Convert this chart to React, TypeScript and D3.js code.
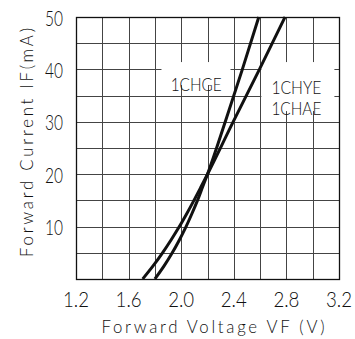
import React from "react";
import * as d3 from "d3";

// Axis ticks
const xTickValues = [1.2, 1.6, 2.0, 2.4, 2.8, 3.2];
const xTickLabels = ["1.2", "1.6", "2.0", "2.4", "2.8", "3.2"];
const yTickValues = [10, 20, 30, 40, 50];
const yTickLabels = ["10", "20", "30", "40", "50"];

// Forward characteristic, 1CHGE (voltage in V, current in mA)
const chgeVoltage = [1.8, 1.87, 1.932, 1.987, 2.037, 2.082, 2.124, 2.162, 2.2, 2.335, 2.465, 2.59];
const chgeCurrent = [0, 2.5, 5, 7.5, 10, 12.5, 15, 17.5, 20, 30, 40, 50];

// Forward characteristic, 1CHYE / 1CHAE
const chyeVoltage = [1.707, 1.786, 1.858, 1.924, 1.986, 2.043, 2.097, 2.149, 2.2, 2.395, 2.595, 2.79];
const chyeCurrent = [0, 2.5, 5, 7.5, 10, 12.5, 15, 17.5, 20, 30, 40, 50];

const curveLabelA = ["1CHGE"];
const curveLabelB = ["1CHYE", "1CHAE"];

const W = 355;
const H = 339;
const plot = { left: 76, right: 339, top: 17, bottom: 279 };
const FONT = "Lato, 'Liberation Sans', Arial, sans-serif";
const INK = "#111";

export default function App() {
  const x = d3.scaleLinear().domain([1.2, 3.2]).range([plot.left, plot.right]);
  const y = d3.scaleLinear().domain([0, 50]).range([plot.bottom, plot.top]);

  const xGrid = d3.range(0, 11).map((i) => 1.2 + i * 0.2);
  const yGrid = d3.range(0, 11).map((i) => i * 5);
  const crisp = (v: number) => Math.round(v) + 0.5;

  const line = d3
    .line<[number, number]>()
    .x((d) => x(d[0]))
    .y((d) => y(d[1]))
    .curve(d3.curveMonotoneY);

  const chge: [number, number][] = chgeVoltage.map((v, i) => [v, chgeCurrent[i]]);
  const chye: [number, number][] = chyeVoltage.map((v, i) => [v, chyeCurrent[i]]);

  return (
    <svg
      width={W}
      height={H}
      viewBox={`0 0 ${W} ${H}`}
      style={{ position: "absolute", left: 0, top: 0, background: "#fff" }}
    >
      <rect x={0} y={0} width={W} height={H} fill="#fff" />

      {/* grid */}
      <g stroke="#444" strokeWidth={1}>
        {xGrid.map((v, i) => (
          <line key={"gx" + i} x1={crisp(x(v))} x2={crisp(x(v))} y1={plot.top} y2={plot.bottom} />
        ))}
        {yGrid.map((v, i) => (
          <line key={"gy" + i} x1={plot.left} x2={plot.right} y1={crisp(y(v))} y2={crisp(y(v))} />
        ))}
      </g>
      <rect
        x={crisp(plot.left)}
        y={crisp(plot.top)}
        width={Math.round(plot.right) - Math.round(plot.left)}
        height={Math.round(plot.bottom) - Math.round(plot.top)}
        fill="none"
        stroke={INK}
        strokeWidth={1.3}
      />

      {/* label backgrounds */}
      <rect x={x(1.85)} y={y(41.4)} width={69} height={23} fill="#fff" />
      <rect x={x(2.8) - 25} y={y(41.4)} width={73} height={49} fill="#fff" />

      {/* curves */}
      <g fill="none" stroke={INK} strokeWidth={3} strokeLinejoin="round">
        <path d={line(chge) || ""} />
        <path d={line(chye) || ""} />
      </g>

      {/* curve labels */}
      <g fontFamily={FONT} fontWeight={300} fontSize={17} fill={INK}>
        {curveLabelA.map((t, i) => (
          <text key={t} x={x(1.92)} y={y(35.9) + i * 20.5} textLength={51} lengthAdjust="spacingAndGlyphs">
            {t}
          </text>
        ))}
        {curveLabelB.map((t, i) => (
          <text key={t} x={x(2.8) - 15} y={y(35.3) + i * 20.5} textLength={50} lengthAdjust="spacingAndGlyphs">
            {t}
          </text>
        ))}
      </g>

      {/* tick labels */}
      <g fontFamily={FONT} fontWeight={300} fontSize={21} fill={INK}>
        {yTickValues.map((v, i) => (
          <text
            key={"yt" + v}
            x={plot.left - 13}
            y={y(v) + 8.6}
            textAnchor="end"
            textLength={18}
            lengthAdjust="spacingAndGlyphs"
          >
            {yTickLabels[i]}
          </text>
        ))}
        {xTickValues.map((v, i) => (
          <text
            key={"xt" + v}
            x={x(v)}
            y={306.5}
            textAnchor="middle"
            textLength={26}
            lengthAdjust="spacingAndGlyphs"
          >
            {xTickLabels[i]}
          </text>
        ))}
      </g>

      {/* axis titles */}
      <text
        x={213}
        y={333.3}
        fontFamily={FONT}
        fontWeight={300}
        fontSize={16.8}
        fill={INK}
        textAnchor="middle"
        textLength={223}
        lengthAdjust="spacing"
      >
        Forward Voltage VF (V)
      </text>
      <text
        transform={`translate(33, 142.5) rotate(-90)`}
        fontFamily={FONT}
        fontWeight={300}
        fontSize={16.8}
        fill={INK}
        textAnchor="middle"
        textLength={229}
        lengthAdjust="spacing"
      >
        Forward Current IF(mA)
      </text>
    </svg>
  );
}
